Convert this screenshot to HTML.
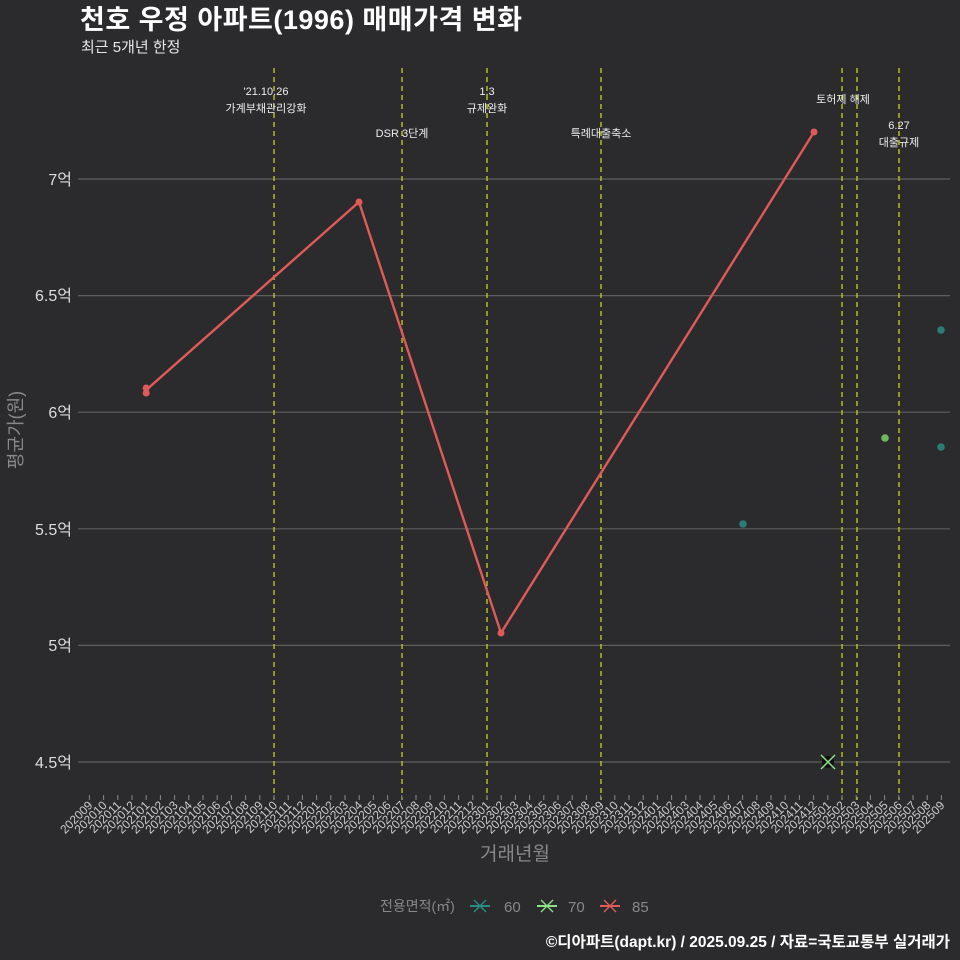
<!DOCTYPE html>
<html><head><meta charset="utf-8"><style>
html,body{margin:0;padding:0;background:#2b2b2d;}
svg{display:block;font-family:"Liberation Sans","Noto Sans CJK KR",sans-serif;}
</style></head><body>
<svg width="960" height="960" viewBox="0 0 960 960" xmlns="http://www.w3.org/2000/svg">
<rect width="960" height="960" fill="#2b2b2d"/>
<text x="80" y="29" font-size="27" font-weight="bold" fill="#ffffff" letter-spacing="0.5">천호 우정 아파트(1996) 매매가격 변화</text>
<text x="81" y="52" font-size="15" fill="#e8e8e8">최근 5개년 한정</text>
<g stroke="#5f5f5f" stroke-width="1.2">
<line x1="78" y1="179" x2="950" y2="179"/>
<line x1="78" y1="295.6" x2="950" y2="295.6"/>
<line x1="78" y1="412.2" x2="950" y2="412.2"/>
<line x1="78" y1="528.8" x2="950" y2="528.8"/>
<line x1="78" y1="645.4" x2="950" y2="645.4"/>
<line x1="78" y1="762" x2="950" y2="762"/>
</g>
<g font-size="16" fill="#dddddd" text-anchor="end">
<text x="72" y="185">7억</text>
<text x="72" y="301">6.5억</text>
<text x="72" y="418">6억</text>
<text x="72" y="535">5.5억</text>
<text x="72" y="651">5억</text>
<text x="72" y="768">4.5억</text>
</g>
<text transform="translate(22,430) rotate(-90)" font-size="18" fill="#888" text-anchor="middle">평균가(원)</text>
<g stroke="#c8d21e" stroke-width="1.3" stroke-dasharray="5,4">
<line x1="274" y1="68" x2="274" y2="800"/>
<line x1="402" y1="68" x2="402" y2="800"/>
<line x1="487" y1="68" x2="487" y2="800"/>
<line x1="601" y1="68" x2="601" y2="800"/>
<line x1="842" y1="68" x2="842" y2="800"/>
<line x1="857" y1="68" x2="857" y2="800"/>
<line x1="899" y1="68" x2="899" y2="800"/>
</g>
<g font-size="11" fill="#eeeeee" text-anchor="middle">
<text x="266" y="95">'21.10.26</text>
<text x="266" y="112">가계부채관리강화</text>
<text x="402" y="137">DSR 3단계</text>
<text x="487" y="95">1.3</text>
<text x="487" y="112">규제완화</text>
<text x="601" y="137">특례대출축소</text>
<text x="843" y="103">토허제 해제</text>
<text x="899" y="129">6.27</text>
<text x="899" y="146">대출규제</text>
</g>
<polyline points="146.2,390 359,202 501,633 814,132" fill="none" stroke="#e05a5a" stroke-width="2.4"/>
<g fill="#e05a5a">
<circle cx="146.2" cy="388" r="3.5"/><circle cx="146.2" cy="393" r="3.5"/>
<circle cx="359" cy="202" r="3.5"/><circle cx="501" cy="633" r="3.5"/><circle cx="814" cy="132" r="3.5"/>
</g>
<g fill="#2a7c74"><circle cx="743" cy="524" r="3.8"/><circle cx="941" cy="330" r="3.8"/><circle cx="941" cy="447" r="3.8"/></g>
<circle cx="885" cy="438" r="3.8" fill="#6fb860"/>
<circle cx="828" cy="762" r="6" fill="#111"/>
<g stroke="#8fe08a" stroke-width="1.5"><line x1="821" y1="755" x2="835" y2="769"/><line x1="821" y1="769" x2="835" y2="755"/></g>
<g stroke="#888" stroke-width="1">
<path d="M89.4 795v5M103.6 795v5M117.8 795v5M132 795v5M146.2 795v5M160.4 795v5M174.6 795v5M188.8 795v5M203 795v5M217.2 795v5M231.4 795v5M245.6 795v5M259.8 795v5M274 795v5M288.2 795v5M302.4 795v5M316.6 795v5M330.8 795v5M345 795v5M359.2 795v5M373.4 795v5M387.6 795v5M401.8 795v5M416 795v5M430.2 795v5M444.4 795v5M458.6 795v5M472.8 795v5M487 795v5M501.2 795v5M515.4 795v5M529.6 795v5M543.8 795v5M558 795v5M572.2 795v5M586.4 795v5M600.6 795v5M614.8 795v5M629 795v5M643.2 795v5M657.4 795v5M671.6 795v5M685.8 795v5M700 795v5M714.2 795v5M728.4 795v5M742.6 795v5M756.8 795v5M771 795v5M785.2 795v5M799.4 795v5M813.6 795v5M827.8 795v5M842 795v5M856.2 795v5M870.4 795v5M884.6 795v5M898.8 795v5M913 795v5M927.2 795v5M941.4 795v5"/>
</g>
<g font-size="12" fill="#cccccc" text-anchor="end">
<text transform="translate(93.4,806) rotate(-45)">202009</text>
<text transform="translate(107.6,806) rotate(-45)">202010</text>
<text transform="translate(121.8,806) rotate(-45)">202011</text>
<text transform="translate(136,806) rotate(-45)">202012</text>
<text transform="translate(150.2,806) rotate(-45)">202101</text>
<text transform="translate(164.4,806) rotate(-45)">202102</text>
<text transform="translate(178.6,806) rotate(-45)">202103</text>
<text transform="translate(192.8,806) rotate(-45)">202104</text>
<text transform="translate(207,806) rotate(-45)">202105</text>
<text transform="translate(221.2,806) rotate(-45)">202106</text>
<text transform="translate(235.4,806) rotate(-45)">202107</text>
<text transform="translate(249.6,806) rotate(-45)">202108</text>
<text transform="translate(263.8,806) rotate(-45)">202109</text>
<text transform="translate(278,806) rotate(-45)">202110</text>
<text transform="translate(292.2,806) rotate(-45)">202111</text>
<text transform="translate(306.4,806) rotate(-45)">202112</text>
<text transform="translate(320.6,806) rotate(-45)">202201</text>
<text transform="translate(334.8,806) rotate(-45)">202202</text>
<text transform="translate(349,806) rotate(-45)">202203</text>
<text transform="translate(363.2,806) rotate(-45)">202204</text>
<text transform="translate(377.4,806) rotate(-45)">202205</text>
<text transform="translate(391.6,806) rotate(-45)">202206</text>
<text transform="translate(405.8,806) rotate(-45)">202207</text>
<text transform="translate(420,806) rotate(-45)">202208</text>
<text transform="translate(434.2,806) rotate(-45)">202209</text>
<text transform="translate(448.4,806) rotate(-45)">202210</text>
<text transform="translate(462.6,806) rotate(-45)">202211</text>
<text transform="translate(476.8,806) rotate(-45)">202212</text>
<text transform="translate(491,806) rotate(-45)">202301</text>
<text transform="translate(505.2,806) rotate(-45)">202302</text>
<text transform="translate(519.4,806) rotate(-45)">202303</text>
<text transform="translate(533.6,806) rotate(-45)">202304</text>
<text transform="translate(547.8,806) rotate(-45)">202305</text>
<text transform="translate(562,806) rotate(-45)">202306</text>
<text transform="translate(576.2,806) rotate(-45)">202307</text>
<text transform="translate(590.4,806) rotate(-45)">202308</text>
<text transform="translate(604.6,806) rotate(-45)">202309</text>
<text transform="translate(618.8,806) rotate(-45)">202310</text>
<text transform="translate(633,806) rotate(-45)">202311</text>
<text transform="translate(647.2,806) rotate(-45)">202312</text>
<text transform="translate(661.4,806) rotate(-45)">202401</text>
<text transform="translate(675.6,806) rotate(-45)">202402</text>
<text transform="translate(689.8,806) rotate(-45)">202403</text>
<text transform="translate(704,806) rotate(-45)">202404</text>
<text transform="translate(718.2,806) rotate(-45)">202405</text>
<text transform="translate(732.4,806) rotate(-45)">202406</text>
<text transform="translate(746.6,806) rotate(-45)">202407</text>
<text transform="translate(760.8,806) rotate(-45)">202408</text>
<text transform="translate(775,806) rotate(-45)">202409</text>
<text transform="translate(789.2,806) rotate(-45)">202410</text>
<text transform="translate(803.4,806) rotate(-45)">202411</text>
<text transform="translate(817.6,806) rotate(-45)">202412</text>
<text transform="translate(831.8,806) rotate(-45)">202501</text>
<text transform="translate(846,806) rotate(-45)">202502</text>
<text transform="translate(860.2,806) rotate(-45)">202503</text>
<text transform="translate(874.4,806) rotate(-45)">202504</text>
<text transform="translate(888.6,806) rotate(-45)">202505</text>
<text transform="translate(902.8,806) rotate(-45)">202506</text>
<text transform="translate(917,806) rotate(-45)">202507</text>
<text transform="translate(931.2,806) rotate(-45)">202508</text>
<text transform="translate(945.4,806) rotate(-45)">202509</text>
</g>
<text x="515" y="860" font-size="19" fill="#888" text-anchor="middle">거래년월</text>
<text x="380" y="911" font-size="14" fill="#888">전용면적(㎡)</text>
<g stroke-width="2">
<line x1="470" y1="906" x2="490" y2="906" stroke="#2a8c84"/>
<line x1="474" y1="900" x2="486" y2="912" stroke="#2a8c84" stroke-width="1.3"/><line x1="474" y1="912" x2="486" y2="900" stroke="#2a8c84" stroke-width="1.3"/>
<line x1="537" y1="906" x2="557" y2="906" stroke="#8fe08a"/>
<line x1="541" y1="900" x2="553" y2="912" stroke="#8fe08a" stroke-width="1.3"/><line x1="541" y1="912" x2="553" y2="900" stroke="#8fe08a" stroke-width="1.3"/>
<line x1="600" y1="906" x2="620" y2="906" stroke="#e05a5a"/>
<line x1="604" y1="900" x2="616" y2="912" stroke="#e05a5a" stroke-width="1.3"/><line x1="604" y1="912" x2="616" y2="900" stroke="#e05a5a" stroke-width="1.3"/>
</g>
<g font-size="15" fill="#888"><text x="504" y="912">60</text><text x="568" y="912">70</text><text x="632" y="912">85</text></g>
<text x="950" y="947" font-size="15.5" font-weight="bold" fill="#ffffff" text-anchor="end">©디아파트(dapt.kr) / 2025.09.25 / 자료=국토교통부 실거래가</text>
</svg>
</body></html>
